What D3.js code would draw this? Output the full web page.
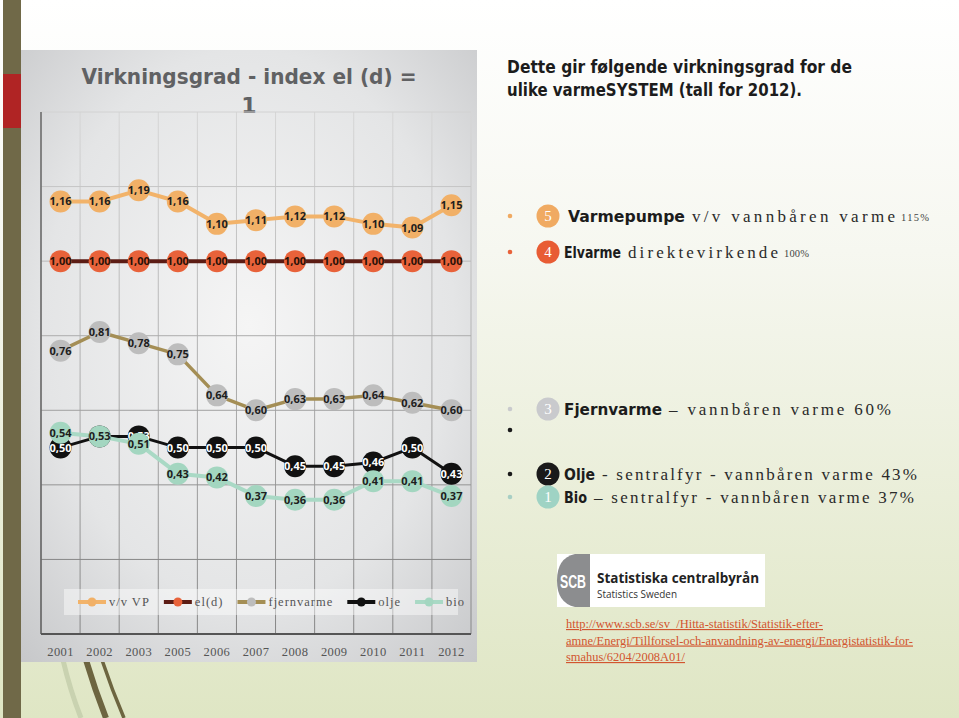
<!DOCTYPE html>
<html><head><meta charset="utf-8">
<script src="https://cdn.jsdelivr.net/npm/d3@7"></script>
<style>html,body{margin:0;padding:0;background:#fff;overflow:hidden} svg{display:block}</style>
</head><body>
<svg id="c" width="959" height="718"></svg>
<script>
// ---------- data ----------
const years = ["2001","2002","2003","2005","2006","2007","2008","2009","2010","2011","2012"];
const seriesNames = ["v/v VP","el(d)","fjernvarme","olje","bio"];
const vvVP       = [1.16,1.16,1.19,1.16,1.10,1.11,1.12,1.12,1.10,1.09,1.15];
const elD        = [1.00,1.00,1.00,1.00,1.00,1.00,1.00,1.00,1.00,1.00,1.00];
const fjernvarme = [0.76,0.81,0.78,0.75,0.64,0.60,0.63,0.63,0.64,0.62,0.60];
const olje       = [0.50,0.53,0.53,0.50,0.50,0.50,0.45,0.45,0.46,0.50,0.43];
const bio        = [0.54,0.53,0.51,0.43,0.42,0.37,0.36,0.36,0.41,0.41,0.37];
const yTicks     = [0,0.2,0.4,0.6,0.8,1.0,1.2,1.4];
const titleLines = ["Virkningsgrad - index el (d) =","1"];
const headLines  = ["Dette gir følgende virkningsgrad for de","ulike varmeSYSTEM (tall for 2012)."];
const bullets = [
  {n:"5", bold:"Varmepumpe", rest:"v/v vannbåren varme", small:"115%"},
  {n:"4", bold:"Elvarme", rest:"direktevirkende", small:"100%"},
  {n:"3", bold:"Fjernvarme", rest:"– vannbåren varme 60%", small:""},
  {n:"",  bold:"", rest:"", small:""},
  {n:"2", bold:"Olje", rest:"- sentralfyr - vannbåren varme 43%", small:""},
  {n:"1", bold:"Bio", rest:"– sentralfyr - vannbåren varme 37%", small:""}
];
const linkLines = ["http://www.scb.se/sv_/Hitta-statistik/Statistik-efter-",
  "amne/Energi/Tillforsel-och-anvandning-av-energi/Energistatistik-for-",
  "smahus/6204/2008A01/"];

// ---------- styles ----------
const allSeries = [vvVP, elD, fjernvarme, olje, bio];
const markerCol = ["#f1b067","#e8623a","#bdbdbd","#111111","#a3d6c0"];
const lineCol   = ["#f2b36a","#5c1c14","#a48e55","#111111","#a9d9c5"];
const labelCol  = ["#1e1e1e","#2a1208","#1e1e1e","#ffffff","#1e1e1e"];
const lineW     = [4,4,3.5,3,4];

const svg = d3.select("#c");
const defs = svg.append("defs");

// background gradient
const bg = defs.append("linearGradient").attr("id","bg").attr("x1",0).attr("y1",0).attr("x2",0).attr("y2",1);
bg.append("stop").attr("offset","0%").attr("stop-color","#ffffff");
bg.append("stop").attr("offset","35%").attr("stop-color","#f6f7f0");
bg.append("stop").attr("offset","100%").attr("stop-color","#dfe6c4");
svg.append("rect").attr("width",959).attr("height",718).attr("fill","url(#bg)");

// left decorative bar
svg.append("rect").attr("x",3).attr("y",0).attr("width",18).attr("height",718).attr("fill","#706948");
svg.append("rect").attr("x",3).attr("y",74).attr("width",18).attr("height",54).attr("fill","#b02424");

// bottom strokes under panel
svg.append("path").attr("d","M63,660 Q70,690 81,718").attr("stroke","#c9d2b0").attr("stroke-width",5).attr("fill","none");
svg.append("path").attr("d","M86,660 Q95,690 106,718").attr("stroke","#6d6540").attr("stroke-width",6).attr("fill","none");
svg.append("path").attr("d","M102,660 Q112,690 124,718").attr("stroke","#6d6540").attr("stroke-width",3.5).attr("fill","none");

// panel
const pg = defs.append("radialGradient").attr("id","pg").attr("cx","50%").attr("cy","45%").attr("r","75%");
pg.append("stop").attr("offset","0%").attr("stop-color","#f5f5f5");
pg.append("stop").attr("offset","60%").attr("stop-color","#e4e5e6");
pg.append("stop").attr("offset","100%").attr("stop-color","#c6c7c9");
svg.append("rect").attr("x",21).attr("y",50).attr("width",456).attr("height",612).attr("fill","url(#pg)");

// title
svg.selectAll("text.title").data(titleLines).join("text").attr("class","title")
  .attr("x",249).attr("y",(d,i)=>84+i*29).attr("text-anchor","middle")
  .attr("font-family","'DejaVu Sans', sans-serif").attr("font-weight","bold").attr("font-size",22)
  .attr("fill","#606163")
  .each(function(d,i){ if(i===0){ d3.select(this).attr("textLength",335).attr("lengthAdjust","spacingAndGlyphs"); }})
  .text(d=>d);

// scales
const x = d3.scaleBand().domain(years).range([41,471]);
const y = d3.scaleLinear().domain([0,1.4]).range([634,112]);
const cx = d => x(d) + x.bandwidth()/2;

// grid gradient
const gg = defs.append("linearGradient").attr("id","gg").attr("gradientUnits","userSpaceOnUse")
  .attr("x1",0).attr("y1",112).attr("x2",0).attr("y2",634);
gg.append("stop").attr("offset","0%").attr("stop-color","#d6d6d6");
gg.append("stop").attr("offset","100%").attr("stop-color","#858585");

const grid = svg.append("g");
const vx = years.map(d=>x(d)).concat([x(years[years.length-1])+x.bandwidth()]);
grid.selectAll("line.v").data(vx).join("line").attr("class","v")
  .attr("x1",d=>d).attr("x2",d=>d).attr("y1",y(1.4)).attr("y2",y(0))
  .attr("stroke","url(#gg)").attr("stroke-width",1);
grid.selectAll("line.h").data(yTicks).join("line").attr("class","h")
  .attr("x1",41).attr("x2",471).attr("y1",d=>y(d)).attr("y2",d=>y(d))
  .attr("stroke",d=>d3.interpolateRgb("#7a7a7a","#d2d2d2")(d/1.4)).attr("stroke-width",1);
// axes lines
svg.append("line").attr("x1",41).attr("x2",41).attr("y1",y(1.4)).attr("y2",y(0)).attr("stroke","#666").attr("stroke-width",1.5);
svg.append("line").attr("x1",41).attr("x2",471).attr("y1",y(0)).attr("y2",y(0)).attr("stroke","#555").attr("stroke-width",2);

// x axis labels via d3 axis
const xAxis = svg.append("g").attr("transform",`translate(0,${y(0)})`)
  .call(d3.axisBottom(x).tickSize(0).tickPadding(13));
xAxis.select(".domain").remove();
xAxis.selectAll("text").attr("font-family","'Liberation Serif', serif").attr("font-size",12.5)
  .attr("fill","#555").attr("letter-spacing",0.4);

// lines
const lineGen = d3.line().x((d,i)=>cx(years[i])).y(d=>y(d));
svg.append("g").selectAll("path").data(allSeries).join("path")
  .attr("d",d=>lineGen(d)).attr("fill","none")
  .attr("stroke",(d,i)=>lineCol[i]).attr("stroke-width",(d,i)=>lineW[i]).attr("stroke-linejoin","round");

// markers + labels per series
const fmt = v => d3.format(".2f")(v).replace(".",",");
allSeries.forEach((s,si)=>{
  const g = svg.append("g");
  g.selectAll("circle").data(s).join("circle")
    .attr("cx",(d,i)=>cx(years[i])).attr("cy",d=>y(d)).attr("r",11)
    .attr("fill",markerCol[si]);
  g.selectAll("text").data(s).join("text")
    .attr("x",(d,i)=>cx(years[i])).attr("y",d=>y(d)).attr("dy","0.36em")
    .attr("text-anchor","middle").attr("font-family","'Open Sans', sans-serif")
    .attr("font-weight","bold").attr("font-size",11).attr("fill",labelCol[si])
    .text(d=>fmt(d));
});

// legend
svg.append("rect").attr("x",64).attr("y",589).attr("width",394).attr("height",26).attr("fill","#ffffff").attr("opacity",0.45);
let lx = 78;
seriesNames.forEach((n,i)=>{
  const g = svg.append("g");
  g.append("line").attr("x1",lx).attr("x2",lx+28).attr("y1",602).attr("y2",602)
    .attr("stroke",lineCol[i]).attr("stroke-width",4);
  g.append("circle").attr("cx",lx+14).attr("cy",602).attr("r",4.5).attr("fill",markerCol[i]);
  const t = g.append("text").attr("x",lx+31).attr("y",606).attr("font-family","'Liberation Serif', serif")
    .attr("font-size",12.5).attr("letter-spacing",1).attr("fill","#555").text(n);
  lx += 31 + t.node().getComputedTextLength() + 14;
});

// right heading
svg.selectAll("text.head").data(headLines).join("text").attr("class","head")
  .attr("x",507).attr("y",(d,i)=>73+i*23)
  .attr("font-family","'DejaVu Sans', sans-serif").attr("font-weight","bold").attr("font-size",17)
  .attr("fill","#1c1c1c")
  .attr("textLength",(d,i)=>i===0?345:295).attr("lengthAdjust","spacingAndGlyphs")
  .text(d=>d);

// bullets
const rowY = [216,252,409,430,474,497];
const numCol = ["#f0aa62","#e85c34","#c9cacd","#1a1a1a","#1a1a1a","#9fd3c4"];
const dotCol = ["#f0aa62","#e8623a","#c9cacd","#1a1a1a","#1a1a1a","#a8cfc4"];
const boldX0 = [568,564,564,564,564,564];
const boldW = [117,57,98,0,31,23];
const restW = [203,150,222,0,315,320];
const smallW = [28,25,0,0,0,0];
bullets.forEach((b,i)=>{
  const yy = rowY[i];
  svg.append("circle").attr("cx",510).attr("cy",yy).attr("r",2.3).attr("fill",dotCol[i]);
  if(!b.n) return;
  svg.append("circle").attr("cx",548).attr("cy",yy).attr("r",11.5).attr("fill",numCol[i]);
  svg.append("text").attr("x",548).attr("y",yy+5).attr("text-anchor","middle")
    .attr("font-family","'Liberation Serif', serif").attr("font-size",15).attr("fill","#fff").text(b.n);
  const bx = boldX0[i];
  svg.append("text").attr("x",bx).attr("y",yy+6).attr("font-family","'DejaVu Sans', sans-serif")
    .attr("font-weight","bold").attr("font-size",16).attr("fill","#1c1c1c")
    .attr("textLength",boldW[i]).attr("lengthAdjust","spacingAndGlyphs").text(b.bold);
  const rx = bx + boldW[i] + 7;
  svg.append("text").attr("x",rx).attr("y",yy+6).attr("font-family","'Liberation Serif', serif")
    .attr("font-size",17).attr("fill","#2a2a2a")
    .attr("textLength",restW[i]).attr("lengthAdjust","spacing").text(b.rest);
  if(b.small){
    svg.append("text").attr("x",rx+restW[i]+6).attr("y",yy+5).attr("font-family","'Liberation Serif', serif")
      .attr("font-size",10.5).attr("fill","#444").attr("textLength",smallW[i]).text(b.small);
  }
});

// SCB logo
const lg = svg.append("g");
lg.append("rect").attr("x",557).attr("y",554).attr("width",208).attr("height",53).attr("fill","#ffffff");
lg.append("path").attr("d","M590,554 L575,554 Q557,558 557,580.5 Q557,603 575,607 L590,607 Z").attr("fill","#8c8d8f");
lg.append("text").attr("x",573).attr("y",588).attr("text-anchor","middle").attr("font-family","'Liberation Sans Narrow','Liberation Sans', sans-serif")
  .attr("font-weight","bold").attr("font-size",19).attr("fill","#fff").attr("textLength",26).attr("lengthAdjust","spacingAndGlyphs").text("SCB");
lg.append("text").attr("x",597).attr("y",583).attr("font-family","'Open Sans', sans-serif").attr("font-weight","bold")
  .attr("font-size",15).attr("fill","#222").attr("textLength",162).attr("lengthAdjust","spacingAndGlyphs").text("Statistiska centralbyrån");
lg.append("text").attr("x",597).attr("y",598).attr("font-family","'Open Sans', sans-serif")
  .attr("font-size",10.5).attr("fill","#333").attr("textLength",80).attr("lengthAdjust","spacingAndGlyphs").text("Statistics Sweden");

// links
const linkW = [257,347,119];
svg.selectAll("text.link").data(linkLines).join("text").attr("class","link")
  .attr("x",566).attr("y",(d,i)=>628+i*16.5)
  .attr("font-family","'Liberation Serif', serif").attr("font-size",11.5).attr("fill","#d2552f")
  .attr("text-decoration","underline")
  .attr("textLength",(d,i)=>linkW[i]).attr("lengthAdjust","spacingAndGlyphs")
  .text(d=>d);
</script>
</body></html>
